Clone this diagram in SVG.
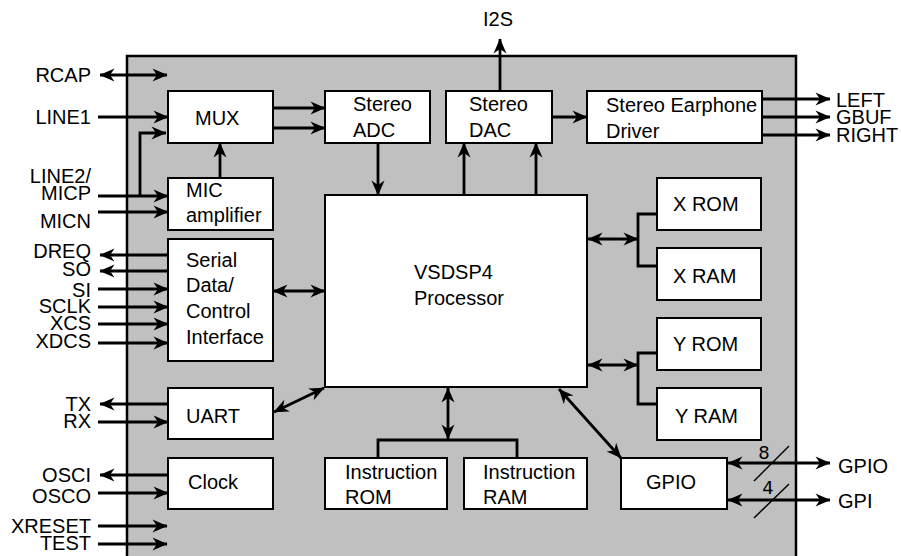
<svg xmlns="http://www.w3.org/2000/svg" width="901" height="556" viewBox="0 0 901 556">
<style>
.box{fill:#fff;stroke:#000;stroke-width:2}
.t{font-family:"Liberation Sans",Arial,sans-serif;font-size:20px;fill:#000}
.e{text-anchor:end}
.m{text-anchor:middle}
.c{fill:none;stroke:#000;stroke-width:2.8}
.a{marker-end:url(#ah)}
.d{marker-start:url(#ah);marker-end:url(#ah)}
.s{stroke:#000;stroke-width:1.5;fill:none}
.n{font-family:"DejaVu Sans",sans-serif;font-size:18px;fill:#000;text-anchor:middle}
</style>
<defs>
<marker id="ah" markerUnits="userSpaceOnUse" viewBox="-16 -8 17 16" refX="0" refY="0" markerWidth="17" markerHeight="16" orient="auto-start-reverse">
<path d="M0.5,0 L-14.5,-6.5 L-10,0 L-14.5,6.5 Z" fill="#000"/>
</marker>
</defs>
<rect width="901" height="556" fill="#fff"/>
<rect id="chip" x="127" y="56" width="669" height="520" fill="#c0c0c0" stroke="#000" stroke-width="2.5"/>

<g id="mux"><rect class="box" x="168" y="91" width="105" height="52"/><text class="t" x="195" y="125">MUX</text></g>
<g id="adc"><rect class="box" x="325" y="91" width="105" height="52"/><text class="t" x="353" y="111">Stereo</text><text class="t" x="353" y="137">ADC</text></g>
<g id="dac"><rect class="box" x="446" y="91" width="106" height="52"/><text class="t" x="469" y="111">Stereo</text><text class="t" x="469" y="137">DAC</text></g>
<g id="earphone"><rect class="box" x="587" y="91" width="175" height="52"/><text class="t" x="606" y="112">Stereo Earphone</text><text class="t" x="606" y="138">Driver</text></g>
<g id="mic"><rect class="box" x="168" y="178" width="105" height="52"/><text class="t" x="186" y="197">MIC</text><text class="t" x="186" y="222">amplifier</text></g>
<g id="serial"><rect class="box" x="168" y="239" width="105" height="122"/><text class="t" x="186" y="267">Serial</text><text class="t" x="186" y="292">Data/</text><text class="t" x="186" y="318">Control</text><text class="t" x="186" y="344">Interface</text></g>
<g id="uart"><rect class="box" x="168" y="388" width="105" height="51"/><text class="t" x="186" y="423">UART</text></g>
<g id="clock"><rect class="box" x="168" y="458" width="105" height="51"/><text class="t" x="188" y="489">Clock</text></g>
<g id="processor"><rect class="box" x="325" y="195" width="262" height="192"/><text class="t" x="414" y="279">VSDSP4</text><text class="t" x="414" y="305">Processor</text></g>
<g id="xrom"><rect class="box" x="657" y="178" width="104" height="52"/><text class="t" x="673" y="211">X ROM</text></g>
<g id="xram"><rect class="box" x="657" y="248" width="104" height="52"/><text class="t" x="673" y="283">X RAM</text></g>
<g id="yrom"><rect class="box" x="657" y="318" width="104" height="52"/><text class="t" x="673" y="351">Y ROM</text></g>
<g id="yram"><rect class="box" x="657" y="388" width="104" height="52"/><text class="t" x="675" y="423">Y RAM</text></g>
<g id="irom"><rect class="box" x="325" y="458" width="122" height="51"/><text class="t" x="345" y="479">Instruction</text><text class="t" x="345" y="504">ROM</text></g>
<g id="iram"><rect class="box" x="464" y="458" width="123" height="51"/><text class="t" x="483" y="479">Instruction</text><text class="t" x="483" y="504">RAM</text></g>
<g id="gpio"><rect class="box" x="621" y="458" width="106" height="51"/><text class="t" x="646" y="489">GPIO</text></g>

<g id="labels">
<text class="t m" x="498" y="26">I2S</text>
<text class="t e" x="91" y="82">RCAP</text>
<text class="t e" x="91" y="124">LINE1</text>
<text class="t e" x="91" y="183">LINE2/</text>
<text class="t e" x="91" y="200">MICP</text>
<text class="t e" x="91" y="228">MICN</text>
<text class="t e" x="91" y="258">DREQ</text>
<text class="t e" x="91" y="276">SO</text>
<text class="t e" x="91" y="297">SI</text>
<text class="t e" x="91" y="313">SCLK</text>
<text class="t e" x="91" y="330">XCS</text>
<text class="t e" x="91" y="348">XDCS</text>
<text class="t e" x="91" y="411">TX</text>
<text class="t e" x="91" y="428">RX</text>
<text class="t e" x="91" y="482">OSCI</text>
<text class="t e" x="91" y="503">OSCO</text>
<text class="t e" x="91" y="533">XRESET</text>
<text class="t e" x="91" y="550">TEST</text>
<text class="t" x="836" y="107">LEFT</text>
<text class="t" x="836" y="124">GBUF</text>
<text class="t" x="836" y="142">RIGHT</text>
<text class="t" x="838" y="473">GPIO</text>
<text class="t" x="838" y="508">GPI</text>
<text class="n" x="764" y="459">8</text>
<text class="n" x="768" y="494">4</text>
</g>

<g id="connectors">
<line class="c d" x1="100" y1="75" x2="167" y2="75"/>
<line class="c a" x1="98" y1="117" x2="168" y2="117"/>
<line class="c a" x1="98" y1="196" x2="168" y2="196"/>
<polyline class="c a" points="140,196 140,133 166,133"/>
<line class="c a" x1="98" y1="212" x2="168" y2="212"/>
<line class="c a" x1="168" y1="255" x2="100" y2="255"/>
<line class="c a" x1="168" y1="271" x2="100" y2="271"/>
<line class="c a" x1="98" y1="289" x2="168" y2="289"/>
<line class="c a" x1="98" y1="307" x2="168" y2="307"/>
<line class="c a" x1="98" y1="324" x2="168" y2="324"/>
<line class="c a" x1="98" y1="343" x2="168" y2="343"/>
<line class="c a" x1="168" y1="404" x2="100" y2="404"/>
<line class="c a" x1="98" y1="422" x2="168" y2="422"/>
<line class="c a" x1="168" y1="475" x2="100" y2="475"/>
<line class="c a" x1="98" y1="493" x2="168" y2="493"/>
<line class="c a" x1="98" y1="526" x2="167" y2="526"/>
<line class="c a" x1="98" y1="544" x2="167" y2="544"/>
<line class="c a" x1="273" y1="108" x2="325" y2="108"/>
<line class="c a" x1="273" y1="128" x2="325" y2="128"/>
<line class="c a" x1="220" y1="178" x2="220" y2="143"/>
<line class="c a" x1="378" y1="143" x2="378" y2="195"/>
<line class="c a" x1="464" y1="195" x2="464" y2="143"/>
<line class="c a" x1="536" y1="195" x2="536" y2="143"/>
<line class="c a" x1="500" y1="91" x2="500" y2="39"/>
<line class="c a" x1="552" y1="117" x2="587" y2="117"/>
<line class="c a" x1="762" y1="99" x2="830" y2="99"/>
<line class="c a" x1="762" y1="117" x2="830" y2="117"/>
<line class="c a" x1="762" y1="135" x2="830" y2="135"/>
<line class="c d" x1="273" y1="291" x2="325" y2="291"/>
<line class="c d" x1="274" y1="412" x2="324" y2="388"/>
<line class="c d" x1="588" y1="239" x2="638" y2="239"/>
<polyline class="c" points="657,214 638,214 638,266 657,266"/>
<line class="c d" x1="588" y1="365" x2="638" y2="365"/>
<polyline class="c" points="657,353 638,353 638,404 657,404"/>
<line class="c d" x1="448" y1="388" x2="448" y2="439"/>
<polyline class="c" points="378,458 378,440 517,440 517,458"/>
<line class="c d" x1="559" y1="389" x2="621" y2="458"/>
<line class="c d" x1="728" y1="463" x2="830" y2="463"/>
<line class="c d" x1="728" y1="500" x2="830" y2="500"/>
<line class="s" x1="754" y1="481" x2="789" y2="446"/>
<line class="s" x1="754" y1="518" x2="789" y2="484"/>
</g>
</svg>
